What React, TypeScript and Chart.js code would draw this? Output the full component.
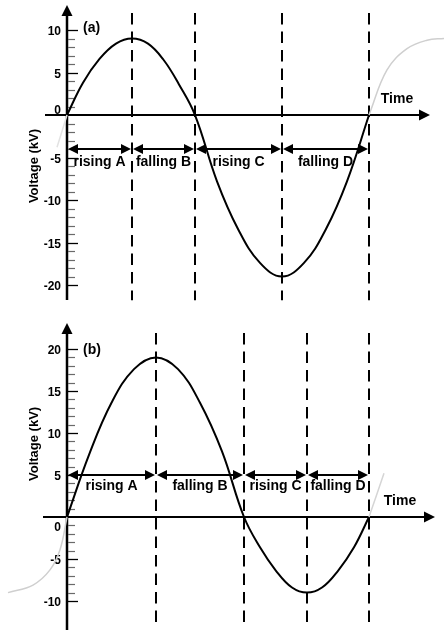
import React, { useEffect, useRef } from "react";
import { Chart, registerables } from "chart.js";

Chart.register(...registerables);

// ---------- data: panel (a) ----------
const timeA = [0, 1.6, 3.25, 4.9, 6.5, 8.1, 9.65, 11.2, 12.8, 15, 17.1, 19.3, 21.5, 23.7, 25.9, 28, 30.2];
const voltA = [0, 3.8, 6.6, 8.4, 9, 8.4, 6.5, 3.6, 0, -7.8, -13.4, -17.4, -19, -17.4, -13.4, -7.8, 0];
const ghostRightTimeA = [30.2, 32, 34, 36, 37.7];
const ghostRightVoltA = [0, 5.3, 7.8, 8.8, 9.0];
const ghostLeftTimeA = [-1, 0];
const ghostLeftVoltA = [-3.8, 0];
const boundariesA = [0, 6.5, 12.8, 21.5, 30.2];
const yTicksA = [10, 5, 0, -5, -10, -15, -20];

// ---------- data: panel (b) ----------
const timeB = [0, 2.2, 4.45, 6.7, 8.9, 11.1, 13.3, 15.5, 17.7, 19.3, 20.9, 22.5, 24, 25.5, 27.1, 28.7, 30.2];
const voltB = [0, 7.4, 13.6, 17.6, 19, 17.6, 13.6, 7.8, 0, -3.6, -6.4, -8.4, -9, -8.4, -6.4, -3.6, 0];
const ghostLeftTimeB = [-5.9, -3.4, -1.7, -0.7, 0];
const ghostLeftVoltB = [-9, -8.1, -6.3, -3.9, 0];
const ghostRightTimeB = [30.2, 31.7];
const ghostRightVoltB = [0, 5.2];
const boundariesB = [0, 8.9, 17.7, 24.0, 30.2];
const yTicksB = [20, 15, 10, 5, 0, -5, -10];

const phaseLabels = ["rising A", "falling B", "rising C", "falling D"];
const axisTitleY = "Voltage (kV)";
const axisTitleX = "Time";

const FONT = "'Liberation Sans', Arial, Helvetica, sans-serif";
const X_MIN = -6.7;
const X_MAX = 37.7;

type Panel = {
  tag: string;
  height: number;
  yMin: number;
  yMax: number;
  time: number[];
  volt: number[];
  ghosts: { t: number[]; v: number[]; color: string }[];
  boundaries: number[];
  yTicks: number[];
  minorFrom: number;
  minorTo: number;
  arrowLevel: number;
  labelLevel: number;
  yAxisTop: number;
  yAxisBottom: number;
  xAxisStart: number;
  xAxisEnd: number;
  dashTop: number;
  dashBottom: number;
  tagPos: [number, number];
  timePos: [number, number];
  vTitlePos: [number, number];
  zeroLabelShift: number;
};

const panelA: Panel = {
  tag: "(a)",
  height: 318,
  yMin: -23.88,
  yMax: 13.53,
  time: timeA,
  volt: voltA,
  ghosts: [
    { t: ghostRightTimeA, v: ghostRightVoltA, color: "#cfcfcf" },
    { t: ghostLeftTimeA, v: ghostLeftVoltA, color: "#e2e2e2" },
  ],
  boundaries: boundariesA,
  yTicks: yTicksA,
  minorFrom: -20,
  minorTo: 10,
  arrowLevel: -4,
  labelLevel: -5.6,
  yAxisTop: 12.94,
  yAxisBottom: -21.76,
  xAxisStart: -2.2,
  xAxisEnd: 36.3,
  dashTop: 12.0,
  dashBottom: -21.8,
  tagPos: [1.6, 10.2],
  timePos: [33.0, 1.9],
  vTitlePos: [-3.3, -6.0],
  zeroLabelShift: -5,
};

const panelB: Panel = {
  tag: "(b)",
  height: 315,
  yMin: -13.81,
  yMax: 23.69,
  time: timeB,
  volt: voltB,
  ghosts: [
    { t: ghostLeftTimeB, v: ghostLeftVoltB, color: "#cfcfcf" },
    { t: ghostRightTimeB, v: ghostRightVoltB, color: "#d5d5d5" },
  ],
  boundaries: boundariesB,
  yTicks: yTicksB,
  minorFrom: -10,
  minorTo: 20,
  arrowLevel: 5,
  labelLevel: 3.7,
  yAxisTop: 23.1,
  yAxisBottom: -13.45,
  xAxisStart: -2.4,
  xAxisEnd: 36.8,
  dashTop: 21.9,
  dashBottom: -12.86,
  tagPos: [1.6, 19.9],
  timePos: [33.3, 1.9],
  vTitlePos: [-3.3, 8.7],
  zeroLabelShift: 10,
};

function tri(ctx: CanvasRenderingContext2D, pts: number[][]) {
  ctx.beginPath();
  ctx.moveTo(pts[0][0], pts[0][1]);
  ctx.lineTo(pts[1][0], pts[1][1]);
  ctx.lineTo(pts[2][0], pts[2][1]);
  ctx.closePath();
  ctx.fill();
}

function makePlugin(p: Panel) {
  return {
    id: "schematic" + p.tag.replace(/[()]/g, ""),
    beforeDatasetsDraw(chart: any) {
      const ctx: CanvasRenderingContext2D = chart.ctx;
      const xs = chart.scales.x;
      const ys = chart.scales.y;
      const X = (v: number) => xs.getPixelForValue(v);
      const Y = (v: number) => ys.getPixelForValue(v);
      ctx.save();
      ctx.strokeStyle = "#000";
      ctx.fillStyle = "#000";

      // dashed phase boundaries
      ctx.lineWidth = 2;
      ctx.setLineDash([11.5, 7]);
      for (const b of p.boundaries.slice(1)) {
        const x = Math.round(X(b));
        ctx.beginPath();
        ctx.moveTo(x, Y(p.dashTop));
        ctx.lineTo(x, Y(p.dashBottom));
        ctx.stroke();
      }
      ctx.setLineDash([]);

      // time axis
      const y0 = Math.round(Y(0));
      const xEnd = X(p.xAxisEnd);
      ctx.lineWidth = 2;
      ctx.beginPath();
      ctx.moveTo(X(p.xAxisStart), y0);
      ctx.lineTo(xEnd - 8, y0);
      ctx.stroke();
      tri(ctx, [
        [xEnd, y0],
        [xEnd - 11, y0 - 5.5],
        [xEnd - 11, y0 + 5.5],
      ]);

      // voltage axis
      const xa = Math.round(X(0));
      const yTop = Y(p.yAxisTop);
      ctx.lineWidth = 2.5;
      ctx.beginPath();
      ctx.moveTo(xa, Y(p.yAxisBottom));
      ctx.lineTo(xa, yTop + 8);
      ctx.stroke();
      tri(ctx, [
        [xa, yTop],
        [xa - 5.5, yTop + 11],
        [xa + 5.5, yTop + 11],
      ]);

      // minor ticks
      ctx.strokeStyle = "#6a6a6a";
      ctx.lineWidth = 1.2;
      for (let v = p.minorFrom; v <= p.minorTo; v++) {
        if (v % 5 === 0) continue;
        const y = Math.round(Y(v)) + 0.5;
        ctx.beginPath();
        ctx.moveTo(xa + 1, y);
        ctx.lineTo(xa + 8, y);
        ctx.stroke();
      }
      // major ticks + labels
      ctx.strokeStyle = "#000";
      ctx.lineWidth = 1.3;
      ctx.font = `bold 12px ${FONT}`;
      ctx.textAlign = "right";
      ctx.textBaseline = "middle";
      for (const v of p.yTicks) {
        const y = Math.round(Y(v)) + 0.5;
        if (v !== 0) {
          ctx.beginPath();
          ctx.moveTo(xa + 1, y);
          ctx.lineTo(xa + 11, y);
          ctx.stroke();
        }
        const shift = v === 0 ? p.zeroLabelShift : 1;
        ctx.fillText(String(v), xa - 6, y + shift);
      }
      ctx.restore();
    },
    afterDatasetsDraw(chart: any) {
      const ctx: CanvasRenderingContext2D = chart.ctx;
      const xs = chart.scales.x;
      const ys = chart.scales.y;
      const X = (v: number) => xs.getPixelForValue(v);
      const Y = (v: number) => ys.getPixelForValue(v);
      ctx.save();
      ctx.strokeStyle = "#000";
      ctx.fillStyle = "#000";

      // double-headed phase arrows + labels
      const ya = Math.round(Y(p.arrowLevel));
      ctx.lineWidth = 2;
      ctx.font = `bold 14px ${FONT}`;
      ctx.textAlign = "center";
      ctx.textBaseline = "middle";
      for (let i = 0; i < p.boundaries.length - 1; i++) {
        const x1 = Math.round(X(p.boundaries[i])) + 1;
        const x2 = Math.round(X(p.boundaries[i + 1])) - 1;
        ctx.beginPath();
        ctx.moveTo(x1 + 4, ya);
        ctx.lineTo(x2 - 4, ya);
        ctx.stroke();
        tri(ctx, [
          [x1, ya],
          [x1 + 10, ya - 5],
          [x1 + 10, ya + 5],
        ]);
        tri(ctx, [
          [x2, ya],
          [x2 - 10, ya - 5],
          [x2 - 10, ya + 5],
        ]);
        ctx.fillText(
          phaseLabels[i],
          (X(p.boundaries[i]) + X(p.boundaries[i + 1])) / 2,
          Y(p.labelLevel)
        );
      }

      // panel tag and axis titles
      ctx.textAlign = "left";
      ctx.fillText(p.tag, X(p.tagPos[0]), Y(p.tagPos[1]));
      ctx.textAlign = "center";
      ctx.fillText(axisTitleX, X(p.timePos[0]), Y(p.timePos[1]));

      ctx.font = `bold 13px ${FONT}`;
      ctx.translate(X(p.vTitlePos[0]), Y(p.vTitlePos[1]));
      ctx.rotate(-Math.PI / 2);
      ctx.fillText(axisTitleY, 0, 0);
      ctx.restore();
    },
  };
}

function PanelChart({ panel }: { panel: Panel }) {
  const ref = useRef<HTMLCanvasElement | null>(null);
  useEffect(() => {
    if (!ref.current) return;
    const main = panel.time.map((t, i) => ({ x: t, y: panel.volt[i] }));
    const ghostSets = panel.ghosts.map((g) => ({
      data: g.t.map((t, i) => ({ x: t, y: g.v[i] })),
      borderColor: g.color,
      borderWidth: 1.5,
      pointRadius: 0,
      tension: 0.4,
      fill: false,
    }));
    const chart = new Chart(ref.current, {
      type: "line",
      data: {
        datasets: [
          ...ghostSets,
          {
            data: main,
            borderColor: "#000",
            borderWidth: 2,
            pointRadius: 0,
            tension: 0.4,
            fill: false,
          },
        ],
      },
      options: {
        animation: false,
        responsive: false,
        maintainAspectRatio: false,
        layout: { padding: 0 },
        events: [],
        plugins: {
          legend: { display: false },
          title: { display: false },
          tooltip: { enabled: false },
        },
        scales: {
          x: { type: "linear", min: X_MIN, max: X_MAX, display: false },
          y: { type: "linear", min: panel.yMin, max: panel.yMax, display: false },
        },
      },
      plugins: [makePlugin(panel)],
    });
    return () => chart.destroy();
  }, [panel]);
  return (
    <canvas
      ref={ref}
      width={444}
      height={panel.height}
      style={{ display: "block", width: 444, height: panel.height }}
    />
  );
}

export default function App() {
  return (
    <div
      style={{
        position: "absolute",
        left: 0,
        top: 0,
        width: 444,
        height: 633,
        background: "#fff",
      }}
    >
      <PanelChart panel={panelA} />
      <PanelChart panel={panelB} />
    </div>
  );
}
